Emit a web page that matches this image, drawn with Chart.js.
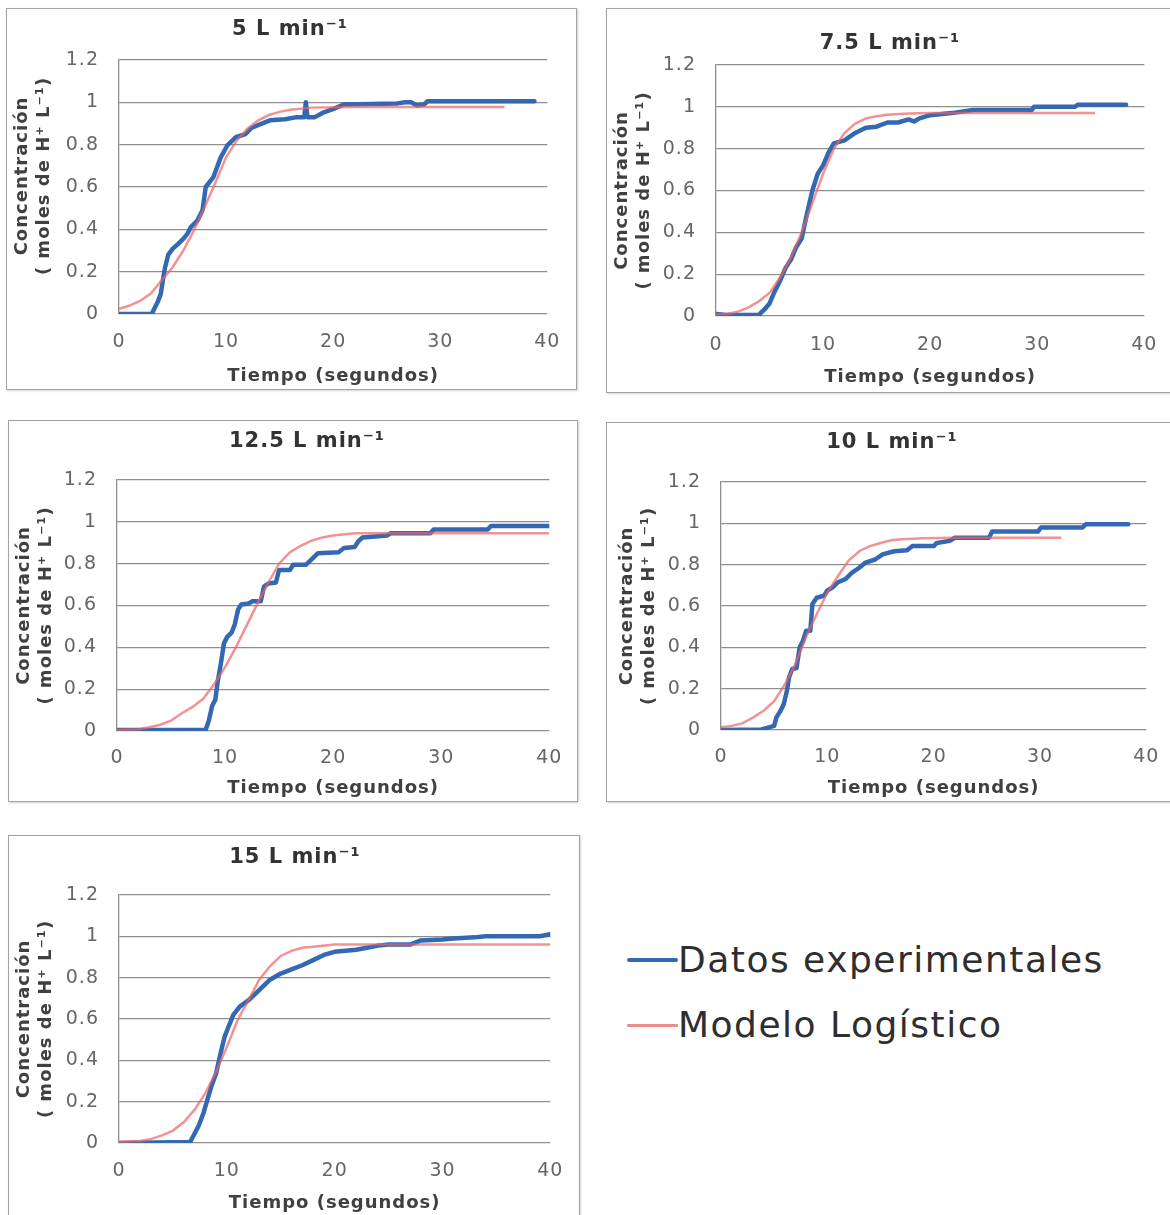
<!DOCTYPE html>
<html lang="es">
<head>
<meta charset="utf-8">
<title>Concentración de H+ frente al tiempo</title>
<script src="https://cdn.jsdelivr.net/npm/chart.js@4.4.1/dist/chart.umd.min.js"></script>
<style>
  html, body { margin: 0; padding: 0; background: #fff; }
  body { width: 1170px; height: 1215px; position: relative; overflow: hidden; font-family: "DejaVu Sans", Verdana, sans-serif; }
  .panel { position: absolute; box-sizing: border-box; border: 1px solid #a3a3a3; box-shadow: 1px 1px 2px rgba(0,0,0,0.18); background: #fff; }
  .panel canvas { position: absolute; left: -1px; top: -1px; }
  .leg-row { position: absolute; left: 627px; height: 36px; display: flex; align-items: center; }
  .leg-line { width: 51px; }
  .leg-text { font-size: 36px; line-height: 36px; letter-spacing: 1.5px; color: #2e2e2e; white-space: nowrap; }
</style>
</head>
<body>

<div class="leg-row" style="top:942px">
  <span class="leg-line" style="height:4px;background:#3468b3;border-radius:2px"></span>
  <span class="leg-text">Datos experimentales</span>
</div>
<div class="leg-row" style="top:1007px">
  <span class="leg-line" style="height:3px;background:#ec8e8e;border-radius:1px"></span>
  <span class="leg-text">Modelo Logístico</span>
</div>

<script>
// [tiempo (s), concentración]
const exp5 = [[0,0],[3.05,0],[3.6,0.055],[3.9,0.095],[4.1,0.16],[4.3,0.22],[4.6,0.28],[5.05,0.31],[5.5,0.33],[6.0,0.355],[6.4,0.38],[6.7,0.41],[7.3,0.44],[7.8,0.49],[8.1,0.6],[8.8,0.645],[9.5,0.74],[10.1,0.795],[10.9,0.835],[11.8,0.85],[12.4,0.88],[13.1,0.895],[14.1,0.915],[15.5,0.92],[16.6,0.93],[17.3,0.93],[17.45,1.0],[17.6,0.93],[18.3,0.93],[19.0,0.95],[20.1,0.97],[21.0,0.99],[26.0,0.995],[26.7,1.0],[27.3,1.0],[27.8,0.985],[28.5,0.99],[28.8,1.005],[38.8,1.005]];
const mod5 = [[0,0.025],[1,0.04],[2,0.063],[3,0.098],[4,0.16],[5,0.22],[6,0.30],[7,0.395],[8,0.505],[9,0.62],[10,0.74],[11,0.82],[12,0.875],[13,0.915],[14,0.94],[15,0.955],[16,0.965],[18,0.975],[22,0.978],[36,0.978]];

const exp75 = [[0,0.01],[1,0.005],[4,0.005],[4.5,0.03],[5,0.06],[5.5,0.12],[6,0.17],[6.5,0.23],[7,0.27],[7.5,0.33],[8,0.37],[8.5,0.49],[9,0.6],[9.5,0.68],[10,0.72],[10.5,0.78],[11,0.825],[12,0.84],[13,0.875],[14,0.9],[15,0.905],[16,0.925],[17,0.925],[18,0.94],[18.5,0.93],[19,0.945],[20,0.96],[22,0.97],[24,0.985],[29.5,0.985],[29.7,1.0],[33.5,1.0],[33.8,1.01],[38.3,1.01]];
const mod75 = [[0,0.008],[1,0.01],[2,0.02],[3,0.04],[4,0.07],[5,0.11],[6,0.185],[7,0.28],[8,0.40],[9,0.54],[10,0.68],[11,0.80],[12,0.875],[13,0.92],[14,0.945],[15,0.955],[16,0.962],[18,0.968],[20,0.97],[35.4,0.97]];

const exp125 = [[0,0.005],[8.2,0.005],[8.5,0.05],[8.8,0.12],[9.1,0.15],[9.3,0.23],[9.6,0.32],[9.9,0.42],[10.2,0.45],[10.6,0.47],[10.9,0.51],[11.2,0.58],[11.5,0.605],[12.2,0.61],[12.5,0.62],[13.3,0.62],[13.6,0.69],[14.0,0.705],[14.7,0.71],[15.0,0.77],[16.0,0.77],[16.3,0.795],[17.5,0.795],[18.0,0.82],[18.6,0.85],[20.5,0.855],[21.0,0.875],[22.0,0.88],[22.3,0.905],[22.7,0.925],[25.0,0.935],[25.3,0.945],[29.0,0.945],[29.3,0.963],[34.3,0.963],[34.6,0.98],[40,0.98]];
const mod125 = [[0,0.005],[2,0.008],[3,0.018],[4,0.03],[5,0.05],[6,0.085],[7,0.115],[8,0.155],[8.5,0.19],[9,0.225],[10,0.305],[11,0.40],[12,0.505],[13,0.61],[14,0.71],[15,0.80],[16,0.855],[17,0.885],[18,0.91],[19,0.925],[20,0.935],[22,0.945],[40,0.945]];

const exp10 = [[0,0],[3.8,0.003],[4.5,0.013],[5,0.02],[5.2,0.06],[5.6,0.093],[5.9,0.125],[6.2,0.19],[6.4,0.255],[6.7,0.295],[7.1,0.30],[7.4,0.40],[7.7,0.43],[8.0,0.48],[8.4,0.48],[8.6,0.61],[9.0,0.64],[9.7,0.65],[10.0,0.675],[10.5,0.69],[11.0,0.715],[11.7,0.73],[12.3,0.76],[13.0,0.785],[13.6,0.81],[14.5,0.825],[15.2,0.85],[16.3,0.865],[17.5,0.87],[18.0,0.89],[20.0,0.89],[20.3,0.905],[21.5,0.915],[22.0,0.93],[25.2,0.93],[25.5,0.96],[29.8,0.96],[30.1,0.98],[34.0,0.98],[34.3,0.995],[38.3,0.995]];
const mod10 = [[0,0.013],[1,0.02],[2,0.032],[3,0.06],[4,0.093],[5,0.14],[6,0.22],[7,0.32],[8,0.45],[9,0.56],[10,0.665],[11,0.745],[12,0.82],[13,0.865],[14,0.89],[15,0.905],[16,0.918],[17,0.923],[19,0.928],[22,0.93],[32,0.93]];

const exp15 = [[0,0],[6.6,0.005],[7.0,0.045],[7.4,0.085],[7.8,0.14],[8.2,0.21],[8.6,0.28],[9.0,0.335],[9.4,0.43],[9.8,0.515],[10.1,0.555],[10.6,0.62],[11.2,0.66],[12,0.69],[13,0.74],[14,0.79],[15,0.82],[16,0.84],[17,0.86],[18,0.885],[19,0.91],[20,0.925],[21,0.93],[22,0.935],[23,0.945],[24,0.955],[25,0.96],[27,0.96],[28,0.98],[30,0.985],[31,0.99],[33,0.995],[34,1.0],[39,1.0],[40,1.01]];
const mod15 = [[0,0.005],[2,0.01],[3,0.02],[4,0.037],[5,0.06],[6,0.10],[7,0.16],[8,0.24],[9,0.345],[10,0.465],[11,0.595],[12,0.69],[13,0.79],[14,0.855],[15,0.905],[16,0.93],[17,0.945],[18,0.95],[20,0.96],[40,0.96]];

const xTicks = [0, 10, 20, 30, 40];
const yTicks = [0, 0.2, 0.4, 0.6, 0.8, 1, 1.2];

const FONT = '"DejaVu Sans", Verdana, sans-serif';
const TITLE_SIZE = 21, TICK_SIZE = 19, AXIS_SIZE = 18;
const GRID = '#8f8f8f';

// page positions: box = panel border, plot = chart area, the rest are text centres
const panels = [
  { title: '5 L min⁻¹',    box: [6, 8, 577, 390],      plot: [119, 60, 548, 314],   titleX: 290, titleY: 30,  tickY: 342,  xTitleY: 376,  yTitleX: 22,  yTitleShift: -11, exp: exp5,   mod: mod5 },
  { title: '7.5 L min⁻¹',  box: [606, 8, 1175, 393],   plot: [716, 65, 1148, 316],  titleX: 890, titleY: 44,  tickY: 345,  xTitleY: 377,  yTitleX: 622, yTitleShift: 0,   exp: exp75,  mod: mod75 },
  { title: '12.5 L min⁻¹', box: [8, 420, 578, 802],    plot: [117, 480, 550, 731],  titleX: 307, titleY: 442, tickY: 758,  xTitleY: 788,  yTitleX: 24,  yTitleShift: 0,   exp: exp125, mod: mod125 },
  { title: '10 L min⁻¹',   box: [606, 422, 1175, 802], plot: [721, 482, 1150, 730], titleX: 892, titleY: 443, tickY: 757,  xTitleY: 788,  yTitleX: 627, yTitleShift: 0,   exp: exp10,  mod: mod10 },
  { title: '15 L min⁻¹',   box: [8, 835, 580, 1230],   plot: [119, 895, 552, 1143], titleX: 295, titleY: 858, tickY: 1171, xTitleY: 1203, yTitleX: 24,  yTitleShift: 0,   exp: exp15,  mod: mod15 }
];

// wider glyph spacing, closer to the Verdana look of the original
const spacing = {
  id: 'spacing',
  beforeLayout(chart) { chart.ctx.letterSpacing = '1px'; },
  beforeDraw(chart) { chart.ctx.letterSpacing = '1px'; }
};

const toPoints = arr => arr.map(p => ({ x: p[0], y: p[1] }));

panels.forEach(p => {
  const [x0, y0, x1, y1] = p.box;
  const [left, top, right, bottom] = p.plot;
  const W = x1 - x0, H = y1 - y0;

  const wrap = document.createElement('div');
  wrap.className = 'panel';
  Object.assign(wrap.style, { left: x0 + 'px', top: y0 + 'px', width: W + 'px', height: H + 'px' });
  const canvas = document.createElement('canvas');
  canvas.width = W;
  canvas.height = H;
  canvas.style.width = W + 'px';
  canvas.style.height = H + 'px';
  wrap.appendChild(canvas);
  document.body.appendChild(wrap);

  const titleLH = TITLE_SIZE * 1.2;
  const titlePadTop = p.titleY - y0 - titleLH / 2;
  const titlePadBottom = (top - y0) - titlePadTop - titleLH;
  const tickPad = p.tickY - bottom - TICK_SIZE * 1.2 / 2;
  const xTitlePad = y1 - p.xTitleY - AXIS_SIZE * 1.2 / 2;
  const yTitlePad = p.yTitleX - x0 - AXIS_SIZE * 1.25 / 2;

  // centre the chart title where the original has it, nudge the y title
  const place = {
    id: 'place',
    afterLayout(chart) {
      const tb = chart.titleBlock;
      const cx = p.titleX - x0;
      tb.left = cx - 200;
      tb.right = cx + 200;
      const ys = chart.scales.y;
      if (p.yTitleShift && !ys._shifted) {
        const orig = ys.drawTitle.bind(ys);
        ys.drawTitle = () => {
          chart.ctx.save();
          chart.ctx.translate(0, p.yTitleShift);
          orig();
          chart.ctx.restore();
        };
        ys._shifted = true;
      }
    }
  };

  new Chart(canvas, {
    type: 'line',
    data: {
      datasets: [
        {
          label: 'Modelo Logístico',
          data: toPoints(p.mod),
          borderColor: 'rgba(236,100,100,0.7)',
          borderWidth: 2.5,
          pointRadius: 0,
          order: 0
        },
        {
          label: 'Datos experimentales',
          data: toPoints(p.exp),
          borderColor: '#3468b3',
          borderWidth: 4.5,
          borderJoinStyle: 'round',
          borderCapStyle: 'round',
          pointRadius: 0,
          order: 1
        }
      ]
    },
    options: {
      responsive: false,
      animation: false,
      devicePixelRatio: 1,
      layout: { padding: { left: 0, top: 0, right: x1 - right, bottom: 0 } },
      plugins: {
        legend: { display: false },
        tooltip: { enabled: false },
        title: {
          display: true,
          text: p.title,
          color: '#333',
          font: { family: FONT, size: TITLE_SIZE, weight: 'bold', lineHeight: 1.2 },
          padding: { top: titlePadTop, bottom: titlePadBottom }
        }
      },
      scales: {
        x: {
          type: 'linear',
          min: xTicks[0],
          max: xTicks[xTicks.length - 1],
          afterBuildTicks: s => { s.ticks = xTicks.map(v => ({ value: v })); },
          afterFit: s => { s.height = y1 - bottom; },
          ticks: { color: '#666', font: { family: FONT, size: TICK_SIZE, lineHeight: 1.2 }, padding: tickPad, maxRotation: 0 },
          grid: { display: false, drawTicks: false },
          border: { display: false },
          title: {
            display: true,
            text: 'Tiempo (segundos)',
            color: '#404040',
            font: { family: FONT, size: AXIS_SIZE, weight: 'bold', lineHeight: 1.2 },
            padding: { top: 0, bottom: xTitlePad }
          }
        },
        y: {
          min: yTicks[0],
          max: yTicks[yTicks.length - 1],
          afterBuildTicks: s => { s.ticks = yTicks.map(v => ({ value: v })); },
          afterFit: s => { s.width = left - x0; },
          ticks: {
            color: '#666',
            font: { family: FONT, size: TICK_SIZE, lineHeight: 1.2 },
            padding: 20,
            callback: v => String(Math.round(v * 10) / 10)
          },
          grid: { color: GRID, lineWidth: 1.3, drawTicks: false },
          border: { display: true, color: GRID, width: 1.3 },
          title: {
            display: true,
            text: ['Concentración', '( moles de H⁺ L⁻¹)'],
            color: '#404040',
            font: { family: FONT, size: AXIS_SIZE, weight: 'bold', lineHeight: 1.25 },
            padding: { top: yTitlePad, bottom: 0 }
          }
        }
      }
    },
    plugins: [spacing, place]
  });
});
</script>
</body>
</html>
